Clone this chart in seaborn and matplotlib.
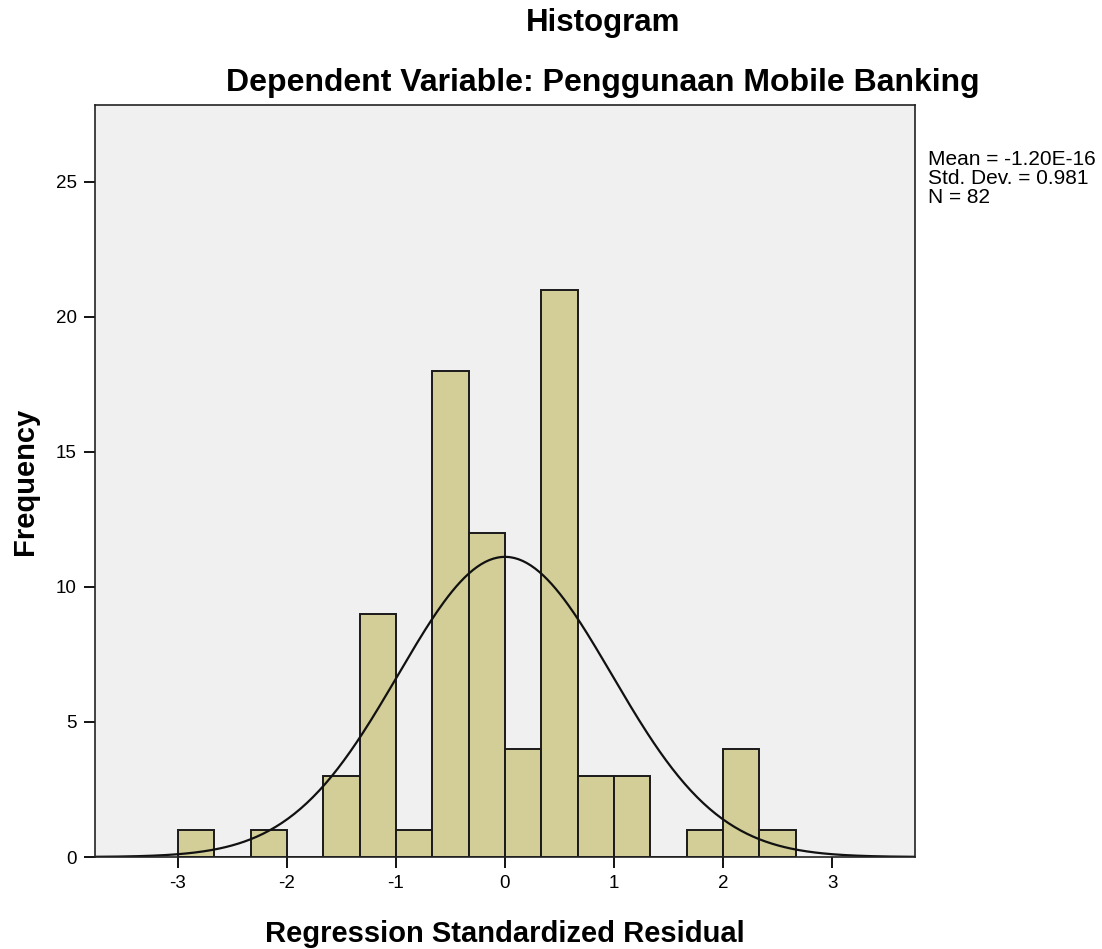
import numpy as np
import matplotlib
matplotlib.use("Agg")
import matplotlib.pyplot as plt
import seaborn as sns

# bin edges (width 1/3) and counts
bin_edges = [-3.0 + i / 3 for i in range(18)]
counts = [1, 0, 1, 0, 3, 9, 1, 18, 12, 4, 21, 3, 3, 0, 1, 4, 1]
bin_centers = [(a + b) / 2 for a, b in zip(bin_edges[:-1], bin_edges[1:])]

mean_val = 0.0
std_val = 0.981
n_obs = 82
x_ticks = [-3, -2, -1, 0, 1, 2, 3]
y_ticks = [0, 5, 10, 15, 20, 25]

sns.set_theme(style="ticks")
plt.rcParams["font.family"] = ["Liberation Sans", "DejaVu Sans"]
plt.rcParams["text.color"] = "black"

fig = plt.figure(figsize=(11.02, 9.49), dpi=100)
ax = fig.add_axes([95 / 1102, 1 - 857 / 949, 820 / 1102, 752 / 949])
ax.set_facecolor("#f0f0f0")

sns.histplot(x=bin_centers, weights=counts, bins=bin_edges, ax=ax,
             color="#d3ce97", alpha=1, edgecolor="#1a1a1a", linewidth=1.4)

# normal curve scaled to counts
xs = np.linspace(-3.8, 3.8, 400)
bw = bin_edges[1] - bin_edges[0]
ys = n_obs * bw * np.exp(-0.5 * ((xs - mean_val) / std_val) ** 2) / (std_val * np.sqrt(2 * np.pi))
sns.lineplot(x=xs, y=ys, ax=ax, color="#111111", linewidth=1.6)

ax.set_xlim(-3.76, 3.76)
ax.set_ylim(0, 27.85)
ax.set_xticks(x_ticks)
ax.set_xticklabels([str(t) for t in x_ticks])
ax.set_yticks(y_ticks)
ax.tick_params(direction="out", length=8, width=1.3, labelsize=13.5, colors="black", pad=5)
for s in ax.spines.values():
    s.set_color("#222222")
    s.set_linewidth(1.2)

ax.set_xlabel("Regression Standardized Residual", fontsize=21, fontweight="bold",
              labelpad=20, color="black")
ax.set_ylabel("Frequency", fontsize=21, fontweight="bold", labelpad=12, color="black")

fig.text(603 / 1102, 1 - 23 / 949, "Histogram", ha="center", va="center",
         fontsize=22.5, fontweight="bold")
fig.text(603 / 1102, 1 - 83 / 949, "Dependent Variable: Penggunaan Mobile Banking",
         ha="center", va="center", fontsize=23, fontweight="bold")

fig.text(928 / 1102, 1 - 150 / 949,
         "Mean = -1.20E-16\nStd. Dev. = 0.981\nN = " + str(n_obs),
         ha="left", va="top", fontsize=15, linespacing=1.0)

fig.savefig("out.png", dpi=100, facecolor="white")
